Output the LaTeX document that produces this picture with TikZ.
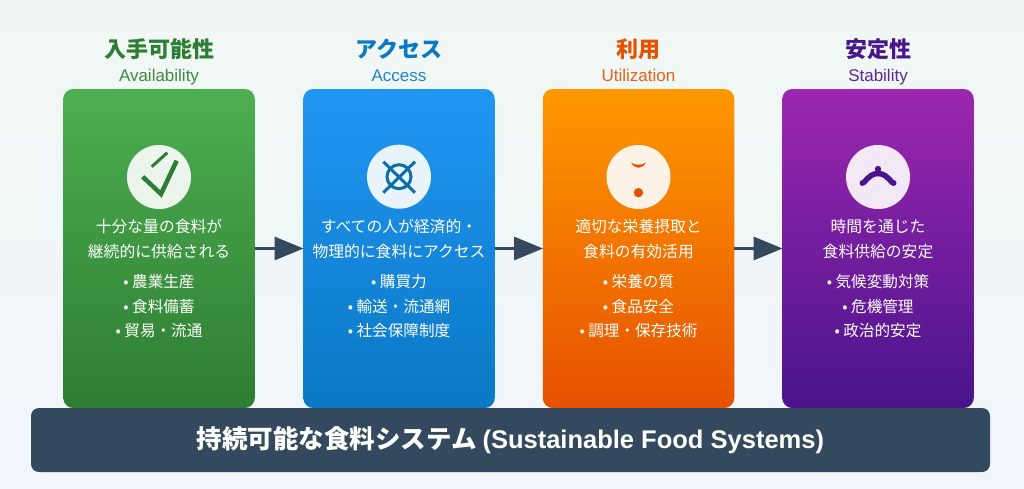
\documentclass[tikz,border=0pt]{standalone}
\usepackage{fontspec}
\setmainfont{Noto Sans CJK JP}
\newfontfamily\latin{Liberation Sans}
\usetikzlibrary{arrows.meta}
\definecolor{bgA}{HTML}{F0F7F3}
\definecolor{bgB}{HTML}{F0F6FC}
\definecolor{dark}{HTML}{34495E}
\definecolor{gT}{HTML}{4CAF50}\definecolor{gB}{HTML}{2E7D32}
\definecolor{bT}{HTML}{2196F3}\definecolor{bB}{HTML}{0A78C4}\definecolor{bI}{HTML}{0D6EA8}
\definecolor{oT}{HTML}{FF9800}\definecolor{oB}{HTML}{E65100}
\definecolor{pT}{HTML}{9C27B0}\definecolor{pB}{HTML}{4A148C}
\tikzset{
  card/.style={minimum width=191.5pt,minimum height=319pt,rounded corners=10pt,inner sep=0pt},
  ttl/.style={font=\fontsize{22}{26}\selectfont\bfseries,inner sep=0pt,anchor=base},
  sub/.style={font=\latin\fontsize{17}{20}\selectfont,inner sep=0pt,text opacity=0.9,anchor=base},
  body/.style={font=\fontsize{15.8}{25}\selectfont,text=white,align=center,inner sep=0pt},
  lst/.style={font=\fontsize{15.6}{24.4}\selectfont,text=white,align=center,inner sep=0pt},
  disc/.style={circle,fill=white,fill opacity=0.9,minimum size=64pt,inner sep=0pt},
  flow/.style={draw=dark,line width=3pt,-{Triangle[length=29pt,width=23pt]},shorten >=-0.5pt},
  bar/.style={fill=dark,minimum width=959pt,minimum height=64pt,rounded corners=8pt,inner sep=0pt,
    text=white,font=\fontsize{25.5}{30}\selectfont\bfseries},
}
\begin{document}
\begin{tikzpicture}[x=1pt,y=-1pt]
\useasboundingbox (0,0) rectangle (1024,488);
\shade[top color=bgA,bottom color=bgB] (0,0) rectangle (1024,488);

\node[card,top color=gT,bottom color=gB] (c1) at (159,248.5) {};
\node[card,top color=bT,bottom color=bB] (c2) at (399,248.5) {};
\node[card,top color=oT,bottom color=oB] (c3) at (638.5,248.5) {};
\node[card,top color=pT,bottom color=pB] (c4) at (878,248.5) {};

\node[bar] (base) at (510.5,440) {持続可能な食料システム {\latin (Sustainable Food Systems)}};

\node[ttl,text=gB] (t1) at (159,57) {入手可能性};
\node[sub,text=gB] (s1) at (159,81) {Availability};
\node[ttl,text=bB] (t2) at (399,57) {アクセス};
\node[sub,text=bB] (s2) at (399,81) {Access};
\node[ttl,text=oB] (t3) at (638.5,57) {利用};
\node[sub,text=oB] (s3) at (638.5,81) {Utilization};
\node[ttl,text=pB] (t4) at (878,57) {安定性};
\node[sub,text=pB] (s4) at (878,81) {Stability};

\node[disc] (i1) at (159,177) {};
\node[disc] (i2) at (399,176.7) {};
\node[disc] (i3) at (638.5,177) {};
\node[disc] (i4) at (878,177) {};

% icons
\draw[gB,line width=4.5pt] (142.7,176.7) -- (161,194) -- (176.7,160.7);
\draw[gB,line width=3pt] (151.7,166.7) -- (167.3,152.7);
\draw[bI,line width=3pt] (399,176.7) circle (12pt);
\draw[bI,line width=3pt] (383.3,161.7) -- (415,192.7) (415,161.7) -- (383.3,192.7);
\fill[oB] (631,162.5) .. controls (635,165.5) and (642,165.5) .. (646,162.5) .. controls (644,166) and (641,167.8) .. (638.5,167.8) .. controls (636,167.8) and (633,166) .. (631,162.5) -- cycle;
\fill[oB] (638.4,192.7) circle (4.7pt);
\draw[pB,line width=5.5pt] (863.5,183) .. controls (869,176) and (873,173.5) .. (878,173.5) .. controls (883,173.5) and (887,176) .. (892.5,183);
\fill[pB] (878,169) circle (3.2pt) (862.5,183) circle (3pt) (893.5,183) circle (3pt);

\node[body] (b1) at (159,238.7) {十分な量の食料が\\継続的に供給される};
\node[body] (b2) at (399,238.7) {すべての人が経済的・\\物理的に食料にアクセス};
\node[body] (b3) at (638.5,238.7) {適切な栄養摂取と\\食料の有効活用};
\node[body] (b4) at (878,238.7) {時間を通じた\\食料供給の安定};

\node[lst] (l1) at (159,306.2) {• 農業生産\\• 食料備蓄\\• 貿易・流通};
\node[lst] (l2) at (399,306.2) {• 購買力\\• 輸送・流通網\\• 社会保障制度};
\node[lst] (l3) at (638.5,306.2) {• 栄養の質\\• 食品安全\\• 調理・保存技術};
\node[lst] (l4) at (878,306.2) {• 気候変動対策\\• 危機管理\\• 政治的安定};

\draw[flow] (c1.east) -- (c2.west);
\draw[flow] (c2.east) -- (c3.west);
\draw[flow] (c3.east) -- (c4.west);
\end{tikzpicture}
\end{document}
